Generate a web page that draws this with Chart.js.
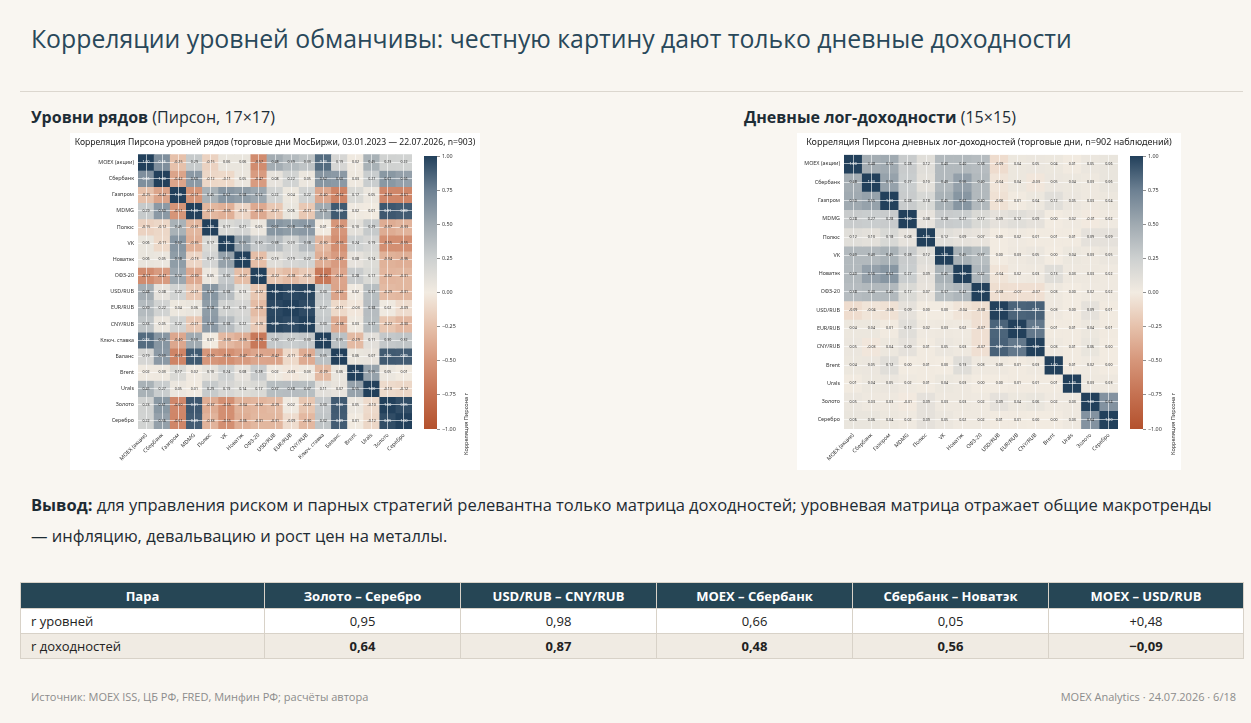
<!DOCTYPE html>
<html lang="ru">
<head>
<meta charset="utf-8">
<title>Корреляции уровней и доходностей</title>
<script src="https://cdn.jsdelivr.net/npm/chart.js@4.4.1/dist/chart.umd.min.js"></script>
<style>
  body { margin: 0; background: #f9f6f1; font-family: "Open Sans", sans-serif; }
  #slide { position: relative; width: 1251px; height: 723px; overflow: hidden; }
  h1 { position: absolute; left: 31px; top: 21px; margin: 0; font-weight: 400; font-size: 24.8px; color: #29485a; white-space: nowrap; }
  .rule { position: absolute; left: 20px; right: 8px; top: 91px; border-top: 1px solid #dcd7cf; }
  .sub { position: absolute; top: 106px; font-size: 16px; color: #1e2d36; white-space: nowrap; }
  .sub b { font-weight: 700; }
  .fig { position: absolute; top: 133px; height: 337px; background: #fff; }
  .fig canvas { position: absolute; top: 0; }
  .cblabel { position: absolute; top: 0; font-family: "Noto Sans"; font-size: 5.6px; color: #333; white-space: nowrap;
             transform-origin: 0 0; transform: rotate(-90deg); }
  .concl { position: absolute; left: 31px; top: 489px; width: 1215px; font-size: 16.5px; line-height: 31px; color: #1e2b33; white-space: nowrap; }
  table { position: absolute; left: 20px; top: 582px; border-collapse: collapse; font-size: 13px; color: #222; table-layout: fixed; }
  th { background: #264655; color: #fff; font-weight: 700; height: 25px; padding: 0; border: 1px solid #d8d2c8; }
  td { height: 24px; padding: 0; border: 1px solid #d8d2c8; text-align: center; background: #fff; }
  td:first-child { text-align: left; padding-left: 10px; }
  tr.alt td { background: #f0ebe3; }
  tr.alt td.v { font-weight: 700; }
  .foot { position: absolute; top: 689px; font-size: 11px; color: #8c8c8c; white-space: nowrap; }
</style>
</head>
<body>
<div id="slide">
  <h1>Корреляции уровней обманчивы: честную картину дают только дневные доходности</h1>
  <div class="rule"></div>

  <div class="sub" style="left:31px"><b>Уровни рядов</b> (Пирсон, 17×17)</div>
  <div class="sub" style="left:744px"><b>Дневные лог-доходности</b> (15×15)</div>

  <div class="fig" style="left:70px; width:410px">
    <canvas id="levels" width="410" height="337" style="left:0"></canvas>
    <canvas id="levelsBar" width="60" height="337" style="left:350px"></canvas>
    <div class="cblabel" style="left:392px; top:322px">Корреляция Пирсона r</div>
  </div>

  <div class="fig" style="left:797px; width:384px">
    <canvas id="returns" width="384" height="337" style="left:0"></canvas>
    <canvas id="returnsBar" width="55" height="337" style="left:329px"></canvas>
    <div class="cblabel" style="left:372px; top:322px">Корреляция Пирсона r</div>
  </div>

  <div class="concl"><b>Вывод:</b> для управления риском и парных стратегий релевантна только матрица доходностей; уровневая матрица отражает общие макротренды<br>— инфляцию, девальвацию и рост цен на металлы.</div>

  <table id="pairs"></table>

  <div class="foot" style="left:31px">Источник: MOEX ISS, ЦБ РФ, FRED, Минфин РФ; расчёты автора</div>
  <div class="foot" style="right:15px">MOEX Analytics · 24.07.2026 · 6/18</div>
</div>

<script>
// --- data ---------------------------------------------------------------

const levelLabels = ['MOEX (акции)', 'Сбербанк', 'Газпром', 'MDMG', 'Полюс', 'VK', 'Новатэк', 'ОФЗ-20',
  'USD/RUB', 'EUR/RUB', 'CNY/RUB', 'Ключ. ставка', 'Баланс', 'Brent', 'Urals', 'Золото', 'Серебро'];

// correlation of levels, row by row
const levelCorr = [
  [ 1.00,  0.66, -0.25,  0.29, -0.15,  0.06,  0.06, -0.57,  0.48,  0.39,  0.33,  0.83,  0.19,  0.02,  0.45,  0.23,  0.22],
  [ 0.66,  1.00, -0.42,  0.60, -0.12, -0.11,  0.05, -0.47,  0.08,  0.22,  0.05,  0.62,  0.60,  0.03,  0.27,  0.61,  0.56],
  [-0.25, -0.42,  1.00, -0.51,  0.45,  0.62,  0.58,  0.52,  0.22,  0.04,  0.22, -0.40, -0.62,  0.17,  0.05, -0.60, -0.61],
  [ 0.29,  0.60, -0.51,  1.00, -0.31, -0.35, -0.13, -0.39, -0.21,  0.06, -0.21,  0.50,  0.90,  0.02,  0.01,  0.91,  0.89],
  [-0.15, -0.12,  0.45, -0.31,  1.00,  0.17,  0.21,  0.05,  0.62,  0.58,  0.60,  0.01, -0.50,  0.10,  0.29, -0.37, -0.33],
  [ 0.06, -0.11,  0.62, -0.35,  0.17,  1.00,  0.55,  0.30,  0.38,  0.23,  0.38, -0.30, -0.55,  0.24,  0.19, -0.55, -0.55],
  [ 0.06,  0.05,  0.58, -0.13,  0.21,  0.55,  1.00, -0.27,  0.13,  0.19,  0.22, -0.36, -0.47,  0.08,  0.14, -0.34, -0.36],
  [-0.57, -0.47,  0.52, -0.39,  0.05,  0.30, -0.27,  1.00, -0.22, -0.28, -0.20, -0.70, -0.41,  0.28,  0.17, -0.32, -0.31],
  [ 0.48,  0.08,  0.22, -0.21,  0.62,  0.38,  0.13, -0.22,  1.00,  0.97,  0.98,  0.30, -0.42,  0.02,  0.37, -0.29, -0.31],
  [ 0.39,  0.22,  0.04,  0.06,  0.58,  0.23,  0.19, -0.28,  0.97,  1.00,  0.96,  0.27, -0.11, -0.03,  0.38,  0.02, -0.09],
  [ 0.33,  0.05,  0.22, -0.21,  0.60,  0.38,  0.22, -0.20,  0.98,  0.96,  1.00,  0.30, -0.38,  0.03,  0.37, -0.22, -0.30],
  [ 0.83,  0.62, -0.40,  0.50,  0.01, -0.30, -0.36, -0.70,  0.30,  0.27,  0.30,  1.00,  0.35, -0.29,  0.11,  0.30,  0.32],
  [ 0.19,  0.60, -0.62,  0.90, -0.50, -0.55, -0.47, -0.41, -0.42, -0.11, -0.38,  0.35,  1.00,  0.06,  0.07,  0.90,  0.89],
  [ 0.02,  0.03,  0.17,  0.02,  0.10,  0.24,  0.08,  0.28,  0.02, -0.03,  0.03, -0.29,  0.06,  1.00,  0.55,  0.05,  0.01],
  [ 0.45,  0.27,  0.05,  0.01,  0.29,  0.19,  0.14,  0.17,  0.37,  0.38,  0.37,  0.11,  0.07,  0.55,  1.00, -0.10, -0.12],
  [ 0.23,  0.61, -0.60,  0.91, -0.37, -0.55, -0.34, -0.32, -0.29,  0.02, -0.22,  0.30,  0.90,  0.05, -0.10,  1.00,  0.95],
  [ 0.22,  0.56, -0.61,  0.89, -0.33, -0.55, -0.36, -0.31, -0.31, -0.09, -0.30,  0.32,  0.89,  0.01, -0.12,  0.95,  1.00]
];

const returnLabels = ['MOEX (акции)', 'Сбербанк', 'Газпром', 'MDMG', 'Полюс', 'VK', 'Новатэк', 'ОФЗ-20',
  'USD/RUB', 'EUR/RUB', 'CNY/RUB', 'Brent', 'Urals', 'Золото', 'Серебро'];

// correlation of daily log returns
const returnCorr = [
  [ 1.00,  0.48,  0.50,  0.28,  0.12,  0.40,  0.40,  0.38, -0.09,  0.04,  0.05,  0.04,  0.01,  0.05,  0.06],
  [ 0.48,  1.00,  0.55,  0.27,  0.10,  0.40,  0.56,  0.40, -0.04,  0.04, -0.03,  0.05,  0.04,  0.03,  0.06],
  [ 0.50,  0.55,  1.00,  0.28,  0.18,  0.45,  0.62,  0.40, -0.06,  0.01,  0.04,  0.12,  0.05,  0.03,  0.04],
  [ 0.28,  0.27,  0.28,  1.00,  0.08,  0.28,  0.27,  0.17,  0.09,  0.12,  0.09,  0.00,  0.02, -0.01,  0.02],
  [ 0.12,  0.10,  0.18,  0.08,  1.00,  0.12,  0.09,  0.07,  0.00,  0.02,  0.01,  0.01,  0.01,  0.09,  0.09],
  [ 0.40,  0.40,  0.45,  0.28,  0.12,  1.00,  0.45,  0.37,  0.00,  0.03,  0.05,  0.00,  0.04,  0.03,  0.05],
  [ 0.40,  0.56,  0.62,  0.27,  0.09,  0.45,  1.00,  0.42, -0.04,  0.02,  0.03,  0.13,  0.03,  0.03,  0.02],
  [ 0.38,  0.40,  0.40,  0.17,  0.07,  0.37,  0.42,  1.00, -0.08, -0.07, -0.07,  0.03,  0.00,  0.02,  0.02],
  [-0.09, -0.04, -0.06,  0.09,  0.00,  0.00, -0.04, -0.08,  1.00,  0.86,  0.87,  0.03,  0.00,  0.09,  0.01],
  [ 0.04,  0.04,  0.01,  0.12,  0.02,  0.03,  0.02, -0.07,  0.86,  1.00,  0.78,  0.01,  0.01,  0.04,  0.01],
  [ 0.05, -0.03,  0.04,  0.09,  0.01,  0.05,  0.03, -0.07,  0.87,  0.78,  1.00,  0.03,  0.01,  0.06,  0.00],
  [ 0.04,  0.05,  0.12,  0.00,  0.01,  0.00,  0.13,  0.03,  0.03,  0.01,  0.03,  1.00,  0.01,  0.02,  0.00],
  [ 0.01,  0.04,  0.05,  0.02,  0.01,  0.04,  0.03,  0.00,  0.00,  0.01,  0.01,  0.01,  1.00,  0.03,  0.03],
  [ 0.05,  0.03,  0.03, -0.01,  0.09,  0.03,  0.03,  0.02,  0.09,  0.04,  0.06,  0.02,  0.03,  1.00,  0.64],
  [ 0.06,  0.06,  0.04,  0.02,  0.09,  0.05,  0.02,  0.02,  0.01,  0.01,  0.00,  0.00,  0.03,  0.64,  1.00]
];

// summary table
const tablePairs   = ['Золото – Серебро', 'USD/RUB – CNY/RUB', 'MOEX – Сбербанк', 'Сбербанк – Новатэк', 'MOEX – USD/RUB'];
const tableLevels  = ['0,95', '0,98', '0,66', '0,05', '+0,48'];
const tableReturns = ['0,64', '0,87', '0,48', '0,56', '−0,09'];

// --- colour map (rust -> cream -> navy) --------------------------------

const corrStops = [
  [-1.00, [180, 81, 45]],
  [-0.75, [197, 113, 81]],
  [-0.50, [214, 150, 122]],
  [-0.25, [230, 193, 171]],
  [ 0.00, [242, 235, 225]],
  [ 0.25, [205, 208, 208]],
  [ 0.50, [160, 170, 177]],
  [ 0.75, [108, 128, 146]],
  [ 1.00, [ 34, 64, 91]]
];

function corrRgb(v) {
  for (let k = 1; k < corrStops.length; k++) {
    const [v1, c1] = corrStops[k];
    const [v0, c0] = corrStops[k - 1];
    if (v <= v1) {
      const t = (v - v0) / (v1 - v0);
      return c0.map((c, j) => Math.round(c + (c1[j] - c) * t));
    }
  }
  return corrStops[corrStops.length - 1][1];
}
const corrColor = v => 'rgb(' + corrRgb(v).join(',') + ')';

// --- cell annotations ---------------------------------------------------

const cellText = {
  id: 'cellText',
  afterDraw(chart, args, opts) {
    if (!opts.size) return;
    const ctx = chart.ctx;
    ctx.save();
    ctx.font = opts.size + 'px "Noto Sans"';
    ctx.textAlign = 'center';
    ctx.textBaseline = 'middle';
    chart.data.datasets.forEach((ds, i) => {
      chart.getDatasetMeta(i).data.forEach((bar, j) => {
        const v = ds.values[j];
        const [r, g, b] = corrRgb(v);
        ctx.fillStyle = (0.299 * r + 0.587 * g + 0.114 * b) < 140 ? '#ffffff' : '#2a2a2a';
        ctx.fillText(v.toFixed(2), bar.x, (bar.y + bar.base) / 2);
      });
    });
    ctx.restore();
  }
};

// --- heatmap built from floating bars -----------------------------------

function heatmap(id, labels, matrix, title, titleSize, axisWidth) {
  const n = labels.length;
  const datasets = matrix.map((row, i) => ({
    data: labels.map(() => [i, i + 1]),
    values: row,
    backgroundColor: row.map(corrColor),
    borderWidth: 0,
    barPercentage: 1,
    categoryPercentage: 1,
    grouped: false
  }));
  const gridStyle = { offset: false, color: 'rgba(255,255,255,0.75)', lineWidth: 0.8, drawTicks: false, z: 1 };
  const tickFont = { family: 'Noto Sans', size: 5.4 };
  const canvas = document.getElementById(id);
  const rightSpace = canvas.width - axisWidth - 274; // room for the colour bar

  new Chart(canvas, {
    type: 'bar',
    data: { labels: labels, datasets: datasets },
    options: {
      responsive: false,
      animation: false,
      layout: { padding: 0 },
      plugins: {
        legend: { display: false },
        tooltip: { enabled: false },
        title: { display: true, text: title, color: '#222', font: { family: 'Noto Sans', size: titleSize, weight: 'normal' },
                 padding: { top: 4, bottom: 7 } },
        cellText: { size: 3.6 }
      },
      scales: {
        x: {
          grid: gridStyle,
          border: { display: false },
          ticks: { font: tickFont, color: '#333', minRotation: 45, maxRotation: 45, autoSkip: false, padding: 3 },
          afterFit: s => { s.height = 41; }
        },
        y: {
          type: 'linear', min: 0, max: n, reverse: true,
          afterBuildTicks: s => { s.ticks = labels.map((_, i) => ({ value: i + 0.5 })); },
          grid: gridStyle,
          border: { display: false },
          ticks: { font: tickFont, color: '#333', autoSkip: false, padding: 4, callback: (v, i) => labels[i] },
          afterFit: s => { s.width = axisWidth; }
        },
        spacer: {
          type: 'linear', position: 'right', min: 0, max: 1,
          grid: { display: false },
          border: { display: false },
          ticks: { display: false },
          afterFit: s => { s.width = rightSpace; }
        }
      }
    },
    plugins: [cellText]
  });
}

// --- colour bar ---------------------------------------------------------

const cbTicks = [-1, -0.75, -0.5, -0.25, 0, 0.25, 0.5, 0.75, 1];

function colorbar(id) {
  const canvas = document.getElementById(id);
  new Chart(canvas, {
    type: 'bar',
    data: {
      labels: [''],
      datasets: [{
        data: [[-1, 1]],
        backgroundColor: c => {
          const area = c.chart.chartArea;
          if (!area) return null;
          const g = c.chart.ctx.createLinearGradient(0, area.bottom, 0, area.top);
          corrStops.forEach(([v, rgb]) => g.addColorStop((v + 1) / 2, 'rgb(' + rgb.join(',') + ')'));
          return g;
        },
        borderWidth: 0,
        barPercentage: 1,
        categoryPercentage: 1
      }]
    },
    options: {
      responsive: false,
      animation: false,
      layout: { padding: { left: 4, right: 0, top: 23, bottom: 41 } },
      plugins: { legend: { display: false }, tooltip: { enabled: false } },
      scales: {
        x: { display: false },
        y: {
          position: 'right', min: -1, max: 1,
          afterBuildTicks: s => { s.ticks = cbTicks.map(v => ({ value: v })); },
          grid: { drawOnChartArea: false, tickLength: 3, color: '#444', lineWidth: 0.6 },
          border: { display: false },
          ticks: { font: { family: 'Noto Sans', size: 5.4 }, color: '#333', padding: 2,
                   callback: v => v.toFixed(2).replace('-', '−') },
          afterFit: s => { s.width = canvas.width - 4 - 13; }
        }
      }
    }
  });
}

heatmap('levels', levelLabels, levelCorr,
  'Корреляция Пирсона уровней рядов (торговые дни МосБиржи, 03.01.2023 — 22.07.2026, n=903)', 8.6, 68);
heatmap('returns', returnLabels, returnCorr,
  'Корреляция Пирсона дневных лог-доходностей (торговые дни, n=902 наблюдений)', 9.0, 47);
colorbar('levelsBar');
colorbar('returnsBar');

// --- table --------------------------------------------------------------

const colWidths = [244, 196, 196, 196, 196, 195];
const table = document.getElementById('pairs');
let html = '<colgroup>' + colWidths.map(w => '<col style="width:' + w + 'px">').join('') + '</colgroup>';
html += '<tr><th>Пара</th>' + tablePairs.map(p => '<th>' + p + '</th>').join('') + '</tr>';
html += '<tr><td>r уровней</td>' + tableLevels.map(v => '<td>' + v + '</td>').join('') + '</tr>';
html += '<tr class="alt"><td>r доходностей</td>' + tableReturns.map(v => '<td class="v">' + v + '</td>').join('') + '</tr>';
table.innerHTML = html;
</script>
</body>
</html>
